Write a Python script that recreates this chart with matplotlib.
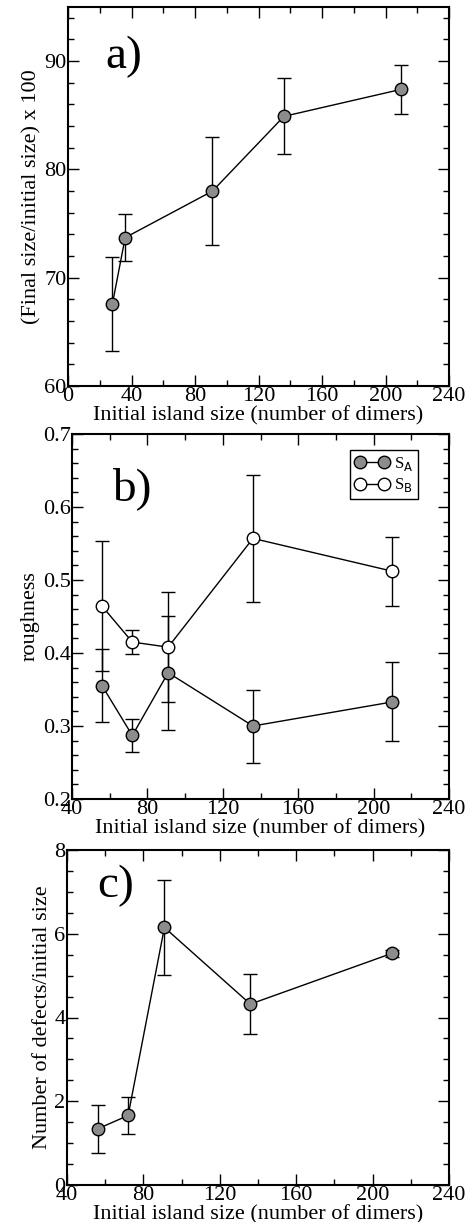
import numpy as np
import matplotlib.pyplot as plt
from matplotlib.ticker import MultipleLocator

plt.rcParams['font.family'] = ['Liberation Serif', 'DejaVu Serif']

# panel a
size_a = [28, 36, 91, 136, 210]
final_a = [67.6, 73.7, 78.0, 84.9, 87.4]
err_a = [4.35, 2.2, 4.95, 3.5, 2.25]

# panel b
size_b = [56, 72, 91, 136, 210]
rough_sa = [0.355, 0.287, 0.373, 0.300, 0.333]
err_sa = [0.050, 0.023, 0.078, 0.050, 0.054]
rough_sb = [0.464, 0.415, 0.408, 0.557, 0.512]
err_sb = [0.089, 0.016, 0.075, 0.087, 0.047]

# panel c
size_c = [56, 72, 91, 136, 210]
defects = [1.34, 1.66, 6.15, 4.32, 5.53]
err_c = [0.58, 0.44, 1.14, 0.71, 0.08]

W, H = 475, 1222
fig = plt.figure(figsize=(W / 100, H / 100), dpi=100)


def box(l, r, t, b):
    return [l / W, 1 - b / H, (r - l) / W, (b - t) / H]


ax_a = fig.add_axes(box(68, 449, 7, 386))
ax_b = fig.add_axes(box(72, 449, 434, 799))
ax_c = fig.add_axes(box(67, 449, 850, 1185))

fill = '#8c8c8c'
ebkw = dict(ecolor='black', elinewidth=1.0, capsize=5, capthick=1.0)
xlab = 'Initial island size (number of dimers)'


def style(ax, xmaj, xmin, ymaj, ymin):
    ax.xaxis.set_major_locator(MultipleLocator(xmaj))
    ax.xaxis.set_minor_locator(MultipleLocator(xmin))
    ax.yaxis.set_major_locator(MultipleLocator(ymaj))
    ax.yaxis.set_minor_locator(MultipleLocator(ymin))
    ax.tick_params(which='both', direction='in', top=True, right=True, labelsize=16, pad=1)
    ax.tick_params(which='major', length=8, width=1)
    ax.tick_params(which='minor', length=4, width=1)
    for s in ax.spines.values():
        s.set_linewidth(1.5)


# a)
ax_a.errorbar(size_a, final_a, yerr=err_a, fmt='-o', color='black', lw=1,
              mfc=fill, mec='black', ms=9, **ebkw)
ax_a.set_xlim(0, 240)
ax_a.set_ylim(60, 95)
style(ax_a, 40, 20, 10, 2)
ax_a.set_xlabel(xlab, fontsize=16, labelpad=0)
ax_a.set_ylabel('(Final size/initial size) x 100', fontsize=16, labelpad=2)
ax_a.text(0.097, 0.84, 'a)', transform=ax_a.transAxes, fontsize=34)

# b)
ax_b.errorbar(size_b, rough_sa, yerr=err_sa, fmt='-o', color='black', lw=1,
              mfc=fill, mec='black', ms=9, label=r'S$_{\mathrm{A}}$', **ebkw)
ax_b.errorbar(size_b, rough_sb, yerr=err_sb, fmt='-o', color='black', lw=1,
              mfc='white', mec='black', ms=9, label=r'S$_{\mathrm{B}}$', **ebkw)
ax_b.set_xlim(40, 240)
ax_b.set_ylim(0.2, 0.7)
style(ax_b, 40, 20, 0.1, 0.02)
ax_b.set_xlabel(xlab, fontsize=16, labelpad=0)
ax_b.set_ylabel('roughness', fontsize=16, labelpad=2)
ax_b.text(0.106, 0.82, 'b)', transform=ax_b.transAxes, fontsize=34)
handles, labels = ax_b.get_legend_handles_labels()
handles = [h[0] for h in handles]
ax_b.legend(handles, labels, loc='upper right', bbox_to_anchor=(0.918, 0.956),
            fontsize=12, frameon=True, fancybox=False, edgecolor='black',
            numpoints=2, handlelength=2.0, handletextpad=0.3, borderpad=0.3,
            labelspacing=0.2, framealpha=1, borderaxespad=0)

# c)
ax_c.errorbar(size_c, defects, yerr=err_c, fmt='-o', color='black', lw=1,
              mfc=fill, mec='black', ms=9, **ebkw)
ax_c.set_xlim(40, 240)
ax_c.set_ylim(0, 8)
style(ax_c, 40, 20, 2, 0.5)
ax_c.set_xlabel(xlab, fontsize=16, labelpad=0)
ax_c.set_ylabel('Number of defects/initial size', fontsize=16, labelpad=2)
ax_c.text(0.078, 0.86, 'c)', transform=ax_c.transAxes, fontsize=34)

fig.savefig('out.png', dpi=100)
